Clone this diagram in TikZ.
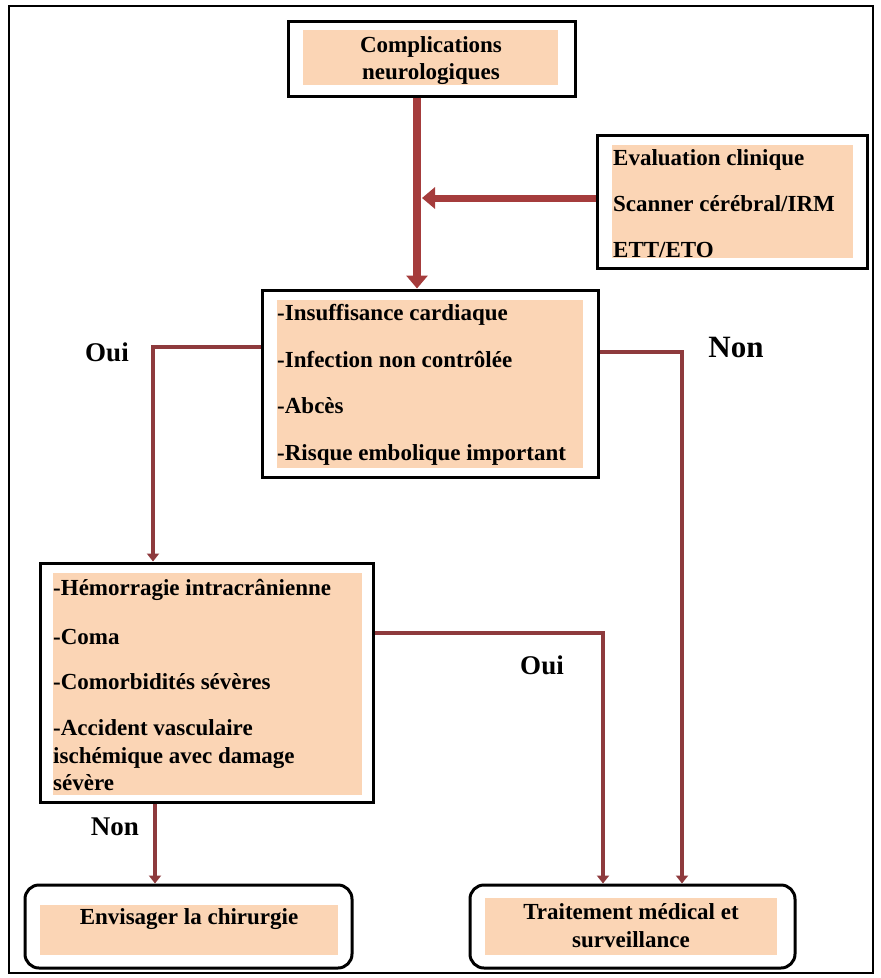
\documentclass[tikz,border=0pt]{standalone}
\usepackage{fontspec}
\setmainfont{Liberation Serif}
\usetikzlibrary{arrows.meta,fit}
\definecolor{peach}{HTML}{FBD5B5}
\definecolor{arrowred}{HTML}{A53C3C}
\definecolor{linered}{HTML}{8E3A3D}
\begin{document}
\begin{tikzpicture}[x=1pt,y=-1pt,
  frame/.style={draw=black,line width=3pt,fill=white,inner sep=0pt},
  rframe/.style={draw=black,line width=3pt,rounded corners=14pt,fill=white,inner sep=0pt},
  peachbox/.style={fill=peach,draw=none,inner sep=0pt},
  txt/.style={font=\bfseries\fontsize{23}{28}\selectfont,inner sep=0pt,anchor=base west},
  ctxt/.style={font=\bfseries\fontsize{23}{28}\selectfont,inner sep=0pt,anchor=base},
  lbl/.style={font=\bfseries\fontsize{27}{30}\selectfont,inner sep=0pt,anchor=base},
  bigarrow/.style={line width=8pt,draw=arrowred,-{Triangle[width=21pt,length=13pt]}},
  conn/.style={line width=4.5pt,draw=linered,-{Triangle[width=12pt,length=8pt]}},
]
\useasboundingbox (0,0) rectangle (881,978);
\draw[line width=2.5pt] (9,6) rectangle (873,973);

% boxes
\node[frame,fit={(288,21) (575,96)}] (b1) {};
\node[peachbox,fit={(303,30) (558,85)}] (f1) {};
\node[frame,fit={(597,135) (867,268)}] (b2) {};
\node[peachbox,fit={(612,145) (853,258)}] (f2) {};
\node[frame,fit={(262,290) (598,477)}] (b3) {};
\node[peachbox,fit={(277,300) (583,468)}] (f3) {};
\node[frame,fit={(40,563) (373,802)}] (b4) {};
\node[peachbox,fit={(53,573) (362,795)}] (f4) {};
\node[rframe,fit={(25,885) (352,968)}] (b5) {};
\node[peachbox,fit={(40,905) (338,955)}] (f5) {};
\node[rframe,fit={(470,885) (795,968)}] (b6) {};
\node[peachbox,fit={(485,898) (777,955)}] (f6) {};

% texts
\node[ctxt] (t1a) at (431,52) {Complications};
\node[ctxt] (t1b) at (431,79) {neurologiques};

\node[txt] (t2a) at (613,165) {Evaluation clinique};
\node[txt] (t2b) at (613,211) {Scanner cérébral/IRM};
\node[txt] (t2c) at (613,257) {ETT/ETO};

\node[txt] (t3a) at (277,320) {-Insuffisance cardiaque};
\node[txt] (t3b) at (277,367) {-Infection non contrôlée};
\node[txt] (t3c) at (277,413) {-Abcès};
\node[txt] (t3d) at (277,460) {-Risque embolique important};

\node[txt] (t4a) at (53,595) {-Hémorragie intracrânienne};
\node[txt] (t4b) at (53,644) {-Coma};
\node[txt] (t4c) at (53,689) {-Comorbidités sévères};
\node[txt] (t4d) at (53,735) {-Accident vasculaire};
\node[txt] (t4e) at (53,763) {ischémique avec damage};
\node[txt] (t4f) at (53,790) {sévère};

\node[ctxt] (t5) at (189,924) {Envisager la chirurgie};
\node[ctxt] (t6a) at (631,919) {Traitement médical et};
\node[ctxt] (t6b) at (631,947) {surveillance};

% labels
\node[lbl] (l1) at (107,361) {Oui};
\node[lbl,font=\bfseries\fontsize{31}{34}\selectfont] (l2) at (736,357) {Non};
\node[lbl] (l3) at (542,674) {Oui};
\node[lbl] (l4) at (115,835) {Non};

% big arrows
\coordinate (m) at (417,0);
\coordinate (mh) at (422,198);
\draw[bigarrow] (b1.south -| m) -- (b3.north -| m);
\draw[bigarrow,line width=7pt] (b2.west |- mh) -- (mh);

% connectors
\coordinate (c1) at (153,347);
\draw[conn] (b3.west |- c1) -- (c1) -- (c1 |- b4.north);
\coordinate (c2) at (682,352);
\draw[conn] (b3.east |- c2) -- (c2) -- (c2 |- b6.north);
\coordinate (c3) at (603,633);
\draw[conn] (b4.east |- c3) -- (c3) -- (c3 |- b6.north);
\coordinate (c4) at (155,0);
\draw[conn] (b4.south -| c4) -- (b5.north -| c4);
\end{tikzpicture}
\end{document}
